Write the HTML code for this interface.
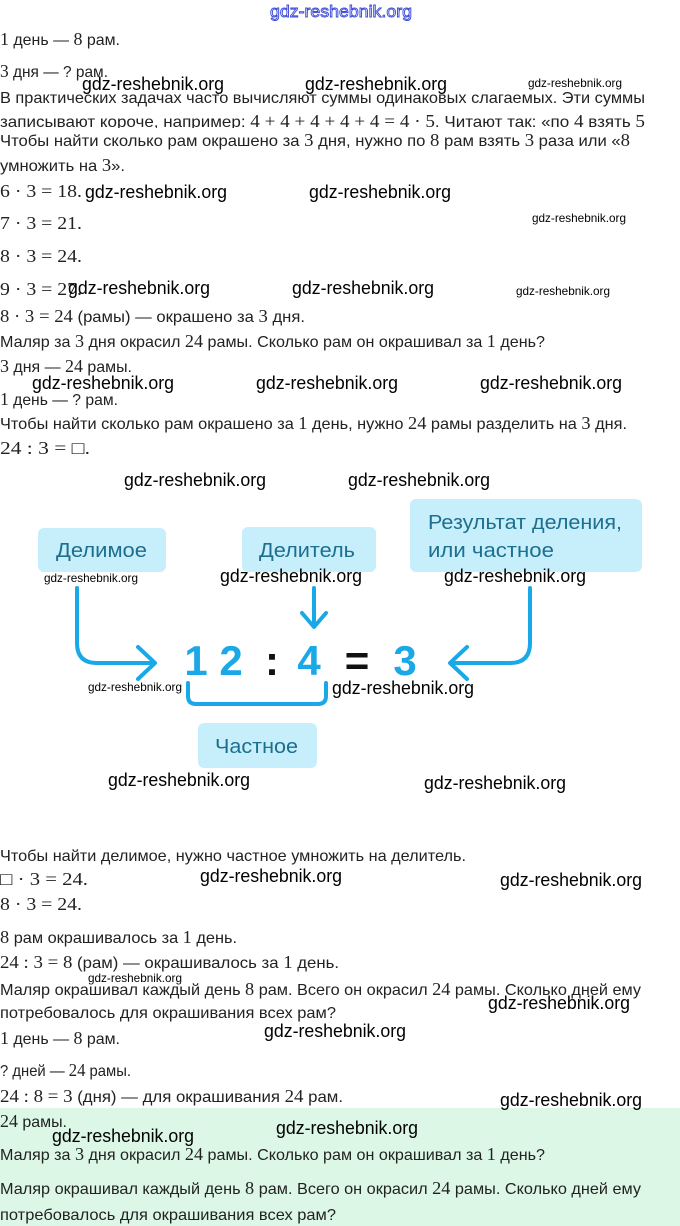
<!DOCTYPE html>
<html><head><meta charset="utf-8">
<style>
html,body{margin:0;padding:0;background:#fff;}
svg{display:block;}
.t{font-family:"Liberation Sans","DejaVu Sans",sans-serif;font-size:16px;fill:#222;}
.m{font-family:"Liberation Serif",serif;font-size:18px;}
.w{font-family:"Liberation Sans",sans-serif;font-size:18px;fill:#000;}
.ws{font-family:"Liberation Sans",sans-serif;font-size:12px;fill:#000;}
.bx{font-family:"Liberation Sans",sans-serif;font-size:20px;fill:#1d6f8f;}
.num{font-family:"Liberation Sans",sans-serif;font-size:42px;font-weight:bold;fill:#1ba8e6;}
.op{font-family:"Liberation Sans",sans-serif;font-size:42px;font-weight:bold;fill:#111;}
</style></head>
<body>
<svg width="680" height="1226" viewBox="0 0 680 1226" xmlns="http://www.w3.org/2000/svg">
<defs><clipPath id="c1"><rect x="0" y="100" width="680" height="28"/></clipPath></defs>
<rect x="0" y="1108" width="680" height="118" fill="#dcf7e5"/>

<text x="270" y="17" textLength="142" lengthAdjust="spacingAndGlyphs" font-family="Liberation Sans, sans-serif" font-size="17" fill="#fff" stroke="#3a48d8" stroke-width="0.9">gdz-reshebnik.org</text>

<g class="t">
<text x="0" y="45" textLength="120" lengthAdjust="spacingAndGlyphs"><tspan class="m">1</tspan> день — <tspan class="m">8</tspan> рам.</text>
<text x="0" y="77" textLength="108" lengthAdjust="spacingAndGlyphs"><tspan class="m">3</tspan> дня — ? рам.</text>
<text x="0" y="103" textLength="645" lengthAdjust="spacingAndGlyphs">В практических задачах часто вычисляют суммы одинаковых слагаемых. Эти суммы</text>
<g clip-path="url(#c1)"><text x="0" y="127" textLength="645" lengthAdjust="spacingAndGlyphs">записывают короче, например: <tspan class="m">4 + 4 + 4 + 4 + 4  = 4 · 5</tspan>. Читают так: «по <tspan class="m">4</tspan> взять <tspan class="m">5</tspan></text></g>
<text x="0" y="146" textLength="630" lengthAdjust="spacingAndGlyphs">Чтобы найти сколько рам окрашено за <tspan class="m">3</tspan> дня, нужно по <tspan class="m">8</tspan> рам взять <tspan class="m">3</tspan> раза или «<tspan class="m">8</tspan></text>
<text x="0" y="171" textLength="125" lengthAdjust="spacingAndGlyphs">умножить на <tspan class="m">3</tspan>».</text>
<text x="0" y="197" textLength="82" lengthAdjust="spacingAndGlyphs" class="m">6 · 3 = 18.</text>
<text x="0" y="229" textLength="82" lengthAdjust="spacingAndGlyphs" class="m">7 · 3 = 21.</text>
<text x="0" y="262" textLength="82" lengthAdjust="spacingAndGlyphs" class="m">8 · 3 = 24.</text>
<text x="0" y="295" textLength="82" lengthAdjust="spacingAndGlyphs" class="m">9 · 3 = 27.</text>
<text x="0" y="322" textLength="305" lengthAdjust="spacingAndGlyphs"><tspan class="m">8 · 3 = 24</tspan> (рамы) — окрашено за <tspan class="m">3</tspan> дня.</text>
<text x="0" y="347" textLength="545" lengthAdjust="spacingAndGlyphs">Маляр за <tspan class="m">3</tspan> дня окрасил <tspan class="m">24</tspan> рамы. Сколько рам он окрашивал за <tspan class="m">1</tspan> день?</text>
<text x="0" y="372" textLength="132" lengthAdjust="spacingAndGlyphs"><tspan class="m">3</tspan> дня — <tspan class="m">24</tspan> рамы.</text>
<text x="0" y="405" textLength="118" lengthAdjust="spacingAndGlyphs"><tspan class="m">1</tspan> день — ? рам.</text>
<text x="0" y="429" textLength="627" lengthAdjust="spacingAndGlyphs">Чтобы найти сколько рам окрашено за <tspan class="m">1</tspan> день, нужно <tspan class="m">24</tspan> рамы разделить на <tspan class="m">3</tspan> дня.</text>
<text x="0" y="454" textLength="90" lengthAdjust="spacingAndGlyphs" class="m">24 : 3 = □.</text>

<text x="0" y="861" textLength="466" lengthAdjust="spacingAndGlyphs">Чтобы найти делимое, нужно частное умножить на делитель.</text>
<text x="0" y="885" textLength="88" lengthAdjust="spacingAndGlyphs" class="m">□ · 3 = 24.</text>
<text x="0" y="910" textLength="82" lengthAdjust="spacingAndGlyphs" class="m">8 · 3 = 24.</text>
<text x="0" y="943" textLength="237" lengthAdjust="spacingAndGlyphs"><tspan class="m">8</tspan> рам окрашивалось за <tspan class="m">1</tspan> день.</text>
<text x="0" y="968" textLength="339" lengthAdjust="spacingAndGlyphs"><tspan class="m">24 : 3 = 8</tspan> (рам) — окрашивалось за <tspan class="m">1</tspan> день.</text>
<text x="0" y="995" textLength="641" lengthAdjust="spacingAndGlyphs">Маляр окрашивал каждый день <tspan class="m">8</tspan> рам. Всего он окрасил <tspan class="m">24</tspan> рамы. Сколько дней ему</text>
<text x="0" y="1018" textLength="336" lengthAdjust="spacingAndGlyphs">потребовалось для окрашивания всех рам?</text>
<text x="0" y="1044" textLength="120" lengthAdjust="spacingAndGlyphs"><tspan class="m">1</tspan> день — <tspan class="m">8</tspan> рам.</text>
<text x="0" y="1076" textLength="131" lengthAdjust="spacingAndGlyphs">? дней — <tspan class="m">24</tspan> рамы.</text>
<text x="0" y="1102" textLength="343" lengthAdjust="spacingAndGlyphs"><tspan class="m">24 : 8 = 3</tspan> (дня) — для окрашивания <tspan class="m">24</tspan> рам.</text>
<text x="0" y="1127" textLength="67" lengthAdjust="spacingAndGlyphs"><tspan class="m">24</tspan> рамы.</text>
<text x="0" y="1160" textLength="545" lengthAdjust="spacingAndGlyphs">Маляр за <tspan class="m">3</tspan> дня окрасил <tspan class="m">24</tspan> рамы. Сколько рам он окрашивал за <tspan class="m">1</tspan> день?</text>
<text x="0" y="1194" textLength="641" lengthAdjust="spacingAndGlyphs">Маляр окрашивал каждый день <tspan class="m">8</tspan> рам. Всего он окрасил <tspan class="m">24</tspan> рамы. Сколько дней ему</text>
<text x="0" y="1220" textLength="336" lengthAdjust="spacingAndGlyphs">потребовалось для окрашивания всех рам?</text>
</g>

<!-- diagram boxes -->
<g fill="#c6effb">
<rect x="38" y="528" width="128" height="44" rx="6"/>
<rect x="242" y="527" width="134" height="45" rx="6"/>
<rect x="410" y="499" width="232" height="73" rx="6"/>
<rect x="198" y="723" width="119" height="45" rx="6"/>
</g>
<text class="bx" x="56" y="557" textLength="91" lengthAdjust="spacingAndGlyphs">Делимое</text>
<text class="bx" x="259" y="557" textLength="96" lengthAdjust="spacingAndGlyphs">Делитель</text>
<text class="bx" x="428" y="529" textLength="194" lengthAdjust="spacingAndGlyphs">Результат деления,</text>
<text class="bx" x="428" y="557" textLength="126" lengthAdjust="spacingAndGlyphs">или частное</text>
<text class="bx" x="215" y="753" textLength="83" lengthAdjust="spacingAndGlyphs">Частное</text>

<!-- arrows -->
<g fill="none" stroke="#1aa9e8" stroke-width="4" stroke-linecap="round" stroke-linejoin="round">
<path d="M77 588 V643 Q77 663 97 663 H153"/>
<path d="M138 647 L155 663 L138 679"/>
<path d="M314 588 V626"/>
<path d="M302 613 L314 627 L326 613"/>
<path d="M530 588 V643 Q530 663 510 663 H452"/>
<path d="M467 647 L450 663 L467 679"/>
<path d="M188 683 V696 Q188 704 196 704 H318 Q326 704 326 696 V683"/>
</g>

<!-- equation -->
<text class="num" x="196" y="675" text-anchor="middle">1</text>
<text class="num" x="231" y="675" text-anchor="middle">2</text>
<text class="op" x="272" y="675" text-anchor="middle">:</text>
<text class="num" x="309" y="675" text-anchor="middle">4</text>
<text class="op" x="357" y="675" text-anchor="middle">=</text>
<text class="num" x="405" y="675" text-anchor="middle">3</text>

<!-- watermarks -->
<g>
<text class="w" x="82" y="90" textLength="142" lengthAdjust="spacingAndGlyphs">gdz-reshebnik.org</text>
<text class="w" x="305" y="90" textLength="142" lengthAdjust="spacingAndGlyphs">gdz-reshebnik.org</text>
<text class="ws" x="528" y="87" textLength="94" lengthAdjust="spacingAndGlyphs">gdz-reshebnik.org</text>
<text class="w" x="85" y="198" textLength="142" lengthAdjust="spacingAndGlyphs">gdz-reshebnik.org</text>
<text class="w" x="309" y="198" textLength="142" lengthAdjust="spacingAndGlyphs">gdz-reshebnik.org</text>
<text class="ws" x="532" y="222" textLength="94" lengthAdjust="spacingAndGlyphs">gdz-reshebnik.org</text>
<text class="w" x="68" y="294" textLength="142" lengthAdjust="spacingAndGlyphs">gdz-reshebnik.org</text>
<text class="w" x="292" y="294" textLength="142" lengthAdjust="spacingAndGlyphs">gdz-reshebnik.org</text>
<text class="ws" x="516" y="295" textLength="94" lengthAdjust="spacingAndGlyphs">gdz-reshebnik.org</text>
<text class="w" x="32" y="389" textLength="142" lengthAdjust="spacingAndGlyphs">gdz-reshebnik.org</text>
<text class="w" x="256" y="389" textLength="142" lengthAdjust="spacingAndGlyphs">gdz-reshebnik.org</text>
<text class="w" x="480" y="389" textLength="142" lengthAdjust="spacingAndGlyphs">gdz-reshebnik.org</text>
<text class="w" x="124" y="486" textLength="142" lengthAdjust="spacingAndGlyphs">gdz-reshebnik.org</text>
<text class="w" x="348" y="486" textLength="142" lengthAdjust="spacingAndGlyphs">gdz-reshebnik.org</text>
<text class="ws" x="44" y="582" textLength="94" lengthAdjust="spacingAndGlyphs">gdz-reshebnik.org</text>
<text class="w" x="220" y="582" textLength="142" lengthAdjust="spacingAndGlyphs">gdz-reshebnik.org</text>
<text class="w" x="444" y="582" textLength="142" lengthAdjust="spacingAndGlyphs">gdz-reshebnik.org</text>
<text class="ws" x="88" y="691" textLength="94" lengthAdjust="spacingAndGlyphs">gdz-reshebnik.org</text>
<text class="w" x="332" y="694" textLength="142" lengthAdjust="spacingAndGlyphs">gdz-reshebnik.org</text>
<text class="w" x="108" y="786" textLength="142" lengthAdjust="spacingAndGlyphs">gdz-reshebnik.org</text>
<text class="w" x="424" y="789" textLength="142" lengthAdjust="spacingAndGlyphs">gdz-reshebnik.org</text>
<text class="w" x="200" y="882" textLength="142" lengthAdjust="spacingAndGlyphs">gdz-reshebnik.org</text>
<text class="w" x="500" y="886" textLength="142" lengthAdjust="spacingAndGlyphs">gdz-reshebnik.org</text>
<text class="ws" x="88" y="982" textLength="94" lengthAdjust="spacingAndGlyphs">gdz-reshebnik.org</text>
<text class="w" x="488" y="1009" textLength="142" lengthAdjust="spacingAndGlyphs">gdz-reshebnik.org</text>
<text class="w" x="264" y="1037" textLength="142" lengthAdjust="spacingAndGlyphs">gdz-reshebnik.org</text>
<text class="w" x="500" y="1106" textLength="142" lengthAdjust="spacingAndGlyphs">gdz-reshebnik.org</text>
<text class="w" x="52" y="1142" textLength="142" lengthAdjust="spacingAndGlyphs">gdz-reshebnik.org</text>
<text class="w" x="276" y="1134" textLength="142" lengthAdjust="spacingAndGlyphs">gdz-reshebnik.org</text>
</g>
</svg>
</body></html>
